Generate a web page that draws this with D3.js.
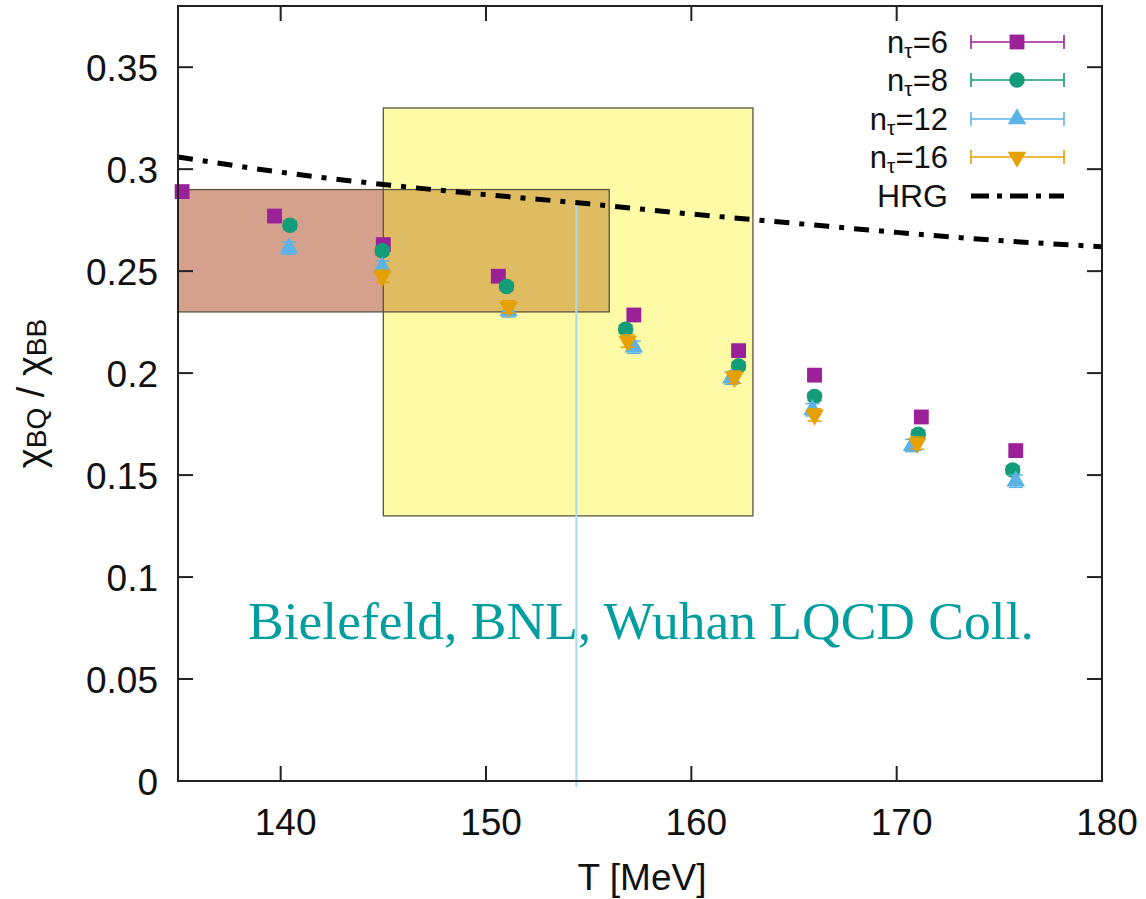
<!DOCTYPE html>
<html>
<head>
<meta charset="utf-8">
<script src="https://cdn.jsdelivr.net/npm/d3@7"></script>
<style>
  html, body { margin: 0; padding: 0; background: #fff; }
  svg { display: block; }
  text { font-family: "Liberation Sans", Arial, sans-serif; fill: #111; }
</style>
</head>
<body>
<svg id="chart" width="1146" height="899"></svg>
<script>
// ---- data ----
const n6T  = [135.2, 139.7, 145.0, 150.6, 157.2, 162.3, 166.0, 171.2, 175.8];
const n6V  = [0.289, 0.277, 0.263, 0.2475, 0.2285, 0.211, 0.199, 0.1785, 0.162];
const n6E  = [0.002, 0.002, 0.002, 0.002, 0.002, 0.002, 0.002, 0.002, 0.002];

const n8T  = [140.45, 144.95, 151.0, 156.8, 162.3, 166.0, 171.05, 175.65];
const n8V  = [0.2725, 0.260, 0.2425, 0.2215, 0.2035, 0.1885, 0.170, 0.1525];
const n8E  = [0.002, 0.002, 0.002, 0.002, 0.002, 0.002, 0.002, 0.002];

const n12T = [140.4, 144.95, 151.1, 157.2, 161.95, 165.9, 170.75, 175.8];
const n12V = [0.2613, 0.252, 0.2305, 0.2127, 0.1975, 0.182, 0.1645, 0.147];
const n12E = [0.003, 0.003, 0.003, 0.003, 0.003, 0.003, 0.003, 0.003];

const n16T = [144.95, 151.1, 156.9, 162.1, 166.0, 171.0];
const n16V = [0.2475, 0.2325, 0.2157, 0.198, 0.1795, 0.1657];
const n16E = [0.003, 0.003, 0.003, 0.003, 0.003, 0.003];

// hadron resonance gas curve
const hrgT = [135, 140, 145, 150, 155, 160, 165, 170, 175, 180];
const hrgV = [0.306, 0.2985, 0.2925, 0.2875, 0.283, 0.278, 0.2735, 0.269, 0.265, 0.262];

// shaded bands: [Tmin, Tmax, vmin, vmax]
const yellowBand = [145, 163, 0.13, 0.33];
const brownBand  = [135, 156, 0.23, 0.29];

// vertical marker line
const markerT = 154.4;

const xTicks = [140, 150, 160, 170, 180];
const yTicks = [0, 0.05, 0.1, 0.15, 0.2, 0.25, 0.3, 0.35];
const yTickLabels = ["0", "0.05", "0.1", "0.15", "0.2", "0.25", "0.3", "0.35"];

const seriesNames = ["6", "8", "12", "16"];

// ---- layout ----
const L = 178, R = 1102, T = 6, B = 781;
const svg = d3.select("#chart");

const x = d3.scaleLinear().domain([135, 180]).range([L, R]);
const y = d3.scaleLinear().domain([0, 0.38]).range([B, T]);

const colors = ["#9b2199", "#139c78", "#5cb4e6", "#e6a000"];
const shapes = [d3.symbolSquare, d3.symbolCircle, d3.symbolTriangle, d3.symbolTriangle];
const rotations = [0, 0, 0, 180];
const sizes = [220, 190, 150, 150];

// ---- bands ----
function bandRect(b, fill) {
  svg.append("rect")
    .attr("x", x(b[0])).attr("y", y(b[3]))
    .attr("width", x(b[1]) - x(b[0])).attr("height", y(b[2]) - y(b[3]))
    .attr("fill", fill);
}
bandRect(yellowBand, "#fffaa6");
bandRect(brownBand, "#d5a08c");
const overlap = [
  Math.max(yellowBand[0], brownBand[0]), Math.min(yellowBand[1], brownBand[1]),
  Math.max(yellowBand[2], brownBand[2]), Math.min(yellowBand[3], brownBand[3])
];
bandRect(overlap, "#dfbb62");
[yellowBand, brownBand].forEach(b => {
  svg.append("rect")
    .attr("x", x(b[0])).attr("y", y(b[3]))
    .attr("width", x(b[1]) - x(b[0])).attr("height", y(b[2]) - y(b[3]))
    .attr("fill", "none").attr("stroke", "#5a5440").attr("stroke-width", 1.3);
});

// ---- vertical marker line ----
const hrgAt = d3.scaleLinear().domain(hrgT).range(hrgV);
svg.append("line")
  .attr("x1", x(markerT)).attr("x2", x(markerT))
  .attr("y1", y(hrgAt(markerT))).attr("y2", B + 6)
  .attr("stroke", "#a9d8f2").attr("stroke-width", 2);

// ---- HRG line ----
const hrgPts = hrgT.map((t, i) => [t, hrgV[i]]);
svg.append("path")
  .datum(hrgPts)
  .attr("d", d3.line().x(d => x(d[0])).y(d => y(d[1])).curve(d3.curveMonotoneX))
  .attr("fill", "none").attr("stroke", "#000").attr("stroke-width", 5)
  .attr("stroke-dasharray", "15,10,5,10");

// ---- data series ----
const allSeries = [
  [n6T, n6V, n6E], [n8T, n8V, n8E], [n12T, n12V, n12E], [n16T, n16V, n16E]
];
allSeries.forEach((s, k) => {
  const g = svg.append("g");
  const pts = s[0].map((t, i) => ({ t, v: s[1][i], e: s[2][i] }));
  // error bars
  pts.forEach(p => {
    const cx = x(p.t);
    g.append("line").attr("x1", cx).attr("x2", cx)
      .attr("y1", y(p.v - p.e)).attr("y2", y(p.v + p.e))
      .attr("stroke", colors[k]).attr("stroke-width", 1.5);
    [p.v - p.e, p.v + p.e].forEach(vv => {
      g.append("line").attr("x1", cx - 7).attr("x2", cx + 7)
        .attr("y1", y(vv)).attr("y2", y(vv))
        .attr("stroke", colors[k]).attr("stroke-width", 1.5);
    });
  });
  g.selectAll("path.mk").data(pts).enter().append("path")
    .attr("class", "mk")
    .attr("d", d3.symbol().type(shapes[k]).size(sizes[k]))
    .attr("transform", d => `translate(${x(d.t)},${y(d.v)}) rotate(${rotations[k]})`)
    .attr("fill", colors[k]);
});

// ---- frame and ticks ----
const tickLen = 15;
svg.append("rect")
  .attr("x", L).attr("y", T).attr("width", R - L).attr("height", B - T)
  .attr("fill", "none").attr("stroke", "#222").attr("stroke-width", 2);

const axG = svg.append("g").attr("stroke", "#222").attr("stroke-width", 2);
xTicks.forEach(t => {
  axG.append("line").attr("x1", x(t)).attr("x2", x(t)).attr("y1", B).attr("y2", B - tickLen);
  axG.append("line").attr("x1", x(t)).attr("x2", x(t)).attr("y1", T).attr("y2", T + tickLen);
});
yTicks.forEach(v => {
  axG.append("line").attr("x1", L).attr("x2", L + tickLen).attr("y1", y(v)).attr("y2", y(v));
  axG.append("line").attr("x1", R).attr("x2", R - tickLen).attr("y1", y(v)).attr("y2", y(v));
});

// tick labels
svg.append("g").selectAll("text").data(xTicks).enter().append("text")
  .attr("x", d => x(d) + 5).attr("y", 835)
  .attr("text-anchor", "middle").attr("font-size", 37)
  .text(d => d);
svg.append("g").selectAll("text").data(yTicks).enter().append("text")
  .attr("x", 158).attr("y", d => y(d) + 14)
  .attr("text-anchor", "end").attr("font-size", 37)
  .text((d, i) => yTickLabels[i]);

// axis titles
svg.append("text")
  .attr("x", (L + R) / 2 + 2).attr("y", 890)
  .attr("text-anchor", "middle").attr("font-size", 37)
  .text("T [MeV]");

const yl = svg.append("text")
  .attr("transform", `translate(44,${(T + B) / 2}) rotate(-90)`)
  .attr("text-anchor", "middle").attr("font-size", 38);
yl.append("tspan").text("χ");
yl.append("tspan").attr("font-size", 28).attr("dy", 2).text("BQ");
yl.append("tspan").attr("dy", -2).text(" / χ");
yl.append("tspan").attr("font-size", 28).attr("dy", 2).text("BB");

// ---- legend ----
const legRows = [42, 80, 119, 157, 196];
const legTextX = 948, legX1 = 971, legX2 = 1064, legMid = 1017;
seriesNames.forEach((nm, k) => {
  const cy = legRows[k];
  const t = svg.append("text").attr("x", legTextX).attr("y", cy + 11)
    .attr("text-anchor", "end").attr("font-size", 31);
  t.append("tspan").text("n");
  t.append("tspan").attr("font-size", 21).attr("dy", 5).text("τ");
  t.append("tspan").attr("dy", -5).text("=" + nm);
  svg.append("line").attr("x1", legX1).attr("x2", legX2).attr("y1", cy).attr("y2", cy)
    .attr("stroke", colors[k]).attr("stroke-width", 1.6);
  [legX1, legX2].forEach(xx => {
    svg.append("line").attr("x1", xx).attr("x2", xx).attr("y1", cy - 7).attr("y2", cy + 7)
      .attr("stroke", colors[k]).attr("stroke-width", 1.6);
  });
  svg.append("path")
    .attr("d", d3.symbol().type(shapes[k]).size(sizes[k])())
    .attr("transform", `translate(${legMid},${cy}) rotate(${rotations[k]})`)
    .attr("fill", colors[k]);
});
svg.append("text").attr("x", legTextX).attr("y", legRows[4] + 11)
  .attr("text-anchor", "end").attr("font-size", 32).text("HRG");
svg.append("line").attr("x1", legX1).attr("x2", legX2)
  .attr("y1", legRows[4]).attr("y2", legRows[4])
  .attr("stroke", "#000").attr("stroke-width", 5).attr("stroke-dasharray", "18,8,5,8");

// ---- collaboration label ----
svg.append("text")
  .attr("x", 248).attr("y", 639)
  .style("font-family", "'Liberation Serif', 'Times New Roman', serif")
  .attr("font-size", 53.5).style("fill", "#009e9e")
  .text("Bielefeld, BNL, Wuhan LQCD Coll.");
</script>
</body>
</html>
